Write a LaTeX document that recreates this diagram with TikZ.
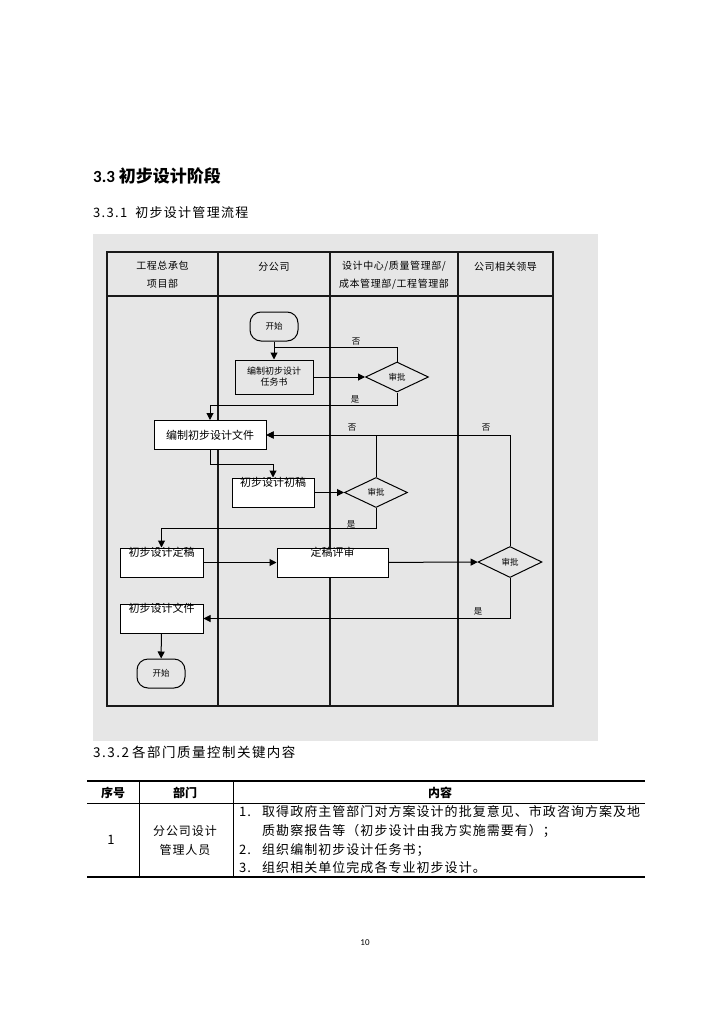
\documentclass[tikz,border=0pt]{standalone}
\usepackage{fontspec}
\setmainfont{Noto Sans CJK SC}
\newfontfamily\latinsans{Carlito}
\usetikzlibrary{arrows.meta, positioning, shapes.geometric}
\definecolor{PanelGray}{RGB}{230,230,230}
\definecolor{LineDark}{RGB}{25,25,25}

\begin{document}
\begin{tikzpicture}[x=1pt, y=-1pt]

\tikzset{
term/.style={
draw, rounded corners=11pt,
minimum width=48pt, minimum height=29pt,
inner sep=0pt, line width=1pt,
font=\fontsize{8.5}{10}\selectfont
},
proc/.style={
draw, fill=white,
minimum height=29pt, inner sep=0pt, line width=1pt
},
dec/.style={
draw, diamond,
minimum width=63pt, minimum height=30pt,
inner sep=0pt, line width=1pt,
font=\fontsize{8.5}{10}\selectfont
},
toptext/.style={anchor=center, yshift=-5pt, inner sep=0pt, font=\fontsize{11}{12}\selectfont},
arr/.style={-{Triangle[length=7pt,width=7pt]}, line width=1pt},
yn/.style={inner sep=0pt, font=\fontsize{8.5}{10}\selectfont},
hdr/.style={align=center, inner sep=0pt, font=\fontsize{10}{18}\selectfont\addfontfeature{LetterSpace=6}},
lane/.style={line width=1.3pt, LineDark},
cell/.style={anchor=west, inner sep=0pt, font=\fontsize{13}{15}\selectfont\addfontfeature{LetterSpace=8}},
thd/.style={inner sep=0pt, font=\fontsize{12}{14}\selectfont\bfseries}
}

\useasboundingbox (0,0) rectangle (724,1024);
\fill[white] (0,0) rectangle (724,1024);

% headings
\node[anchor=west, inner sep=0pt, font=\fontsize{17}{20}\selectfont\bfseries] (sec)
at (93,176) {{\latinsans 3.3} 初步设计阶段};
\node[anchor=west, inner sep=0pt, font=\fontsize{13}{15}\selectfont\addfontfeature{LetterSpace=10}] (sub1)
at (93,213) {3.3.1\hspace{8pt}初步设计管理流程};

% flow chart panel
\fill[PanelGray] (93,234) rectangle (598,741);
\draw[lane] (107,252) rectangle (553,706);
\draw[lane] (107,296) -- (553,296);
\foreach \lx in {218,330,458}
\draw[lane] (\lx,252) -- (\lx,706);

\node[hdr] (h1) at (162.5,275) {工程总承包\\项目部};
\node[hdr] (h2) at (274,267) {分公司};
\node[hdr] (h3) at (394,275) {设计中心/质量管理部/\\成本管理部/工程管理部};
\node[hdr] (h4) at (505.5,267) {公司相关领导};

\node[term] (start) at (274,326.5) {开始};
\node[draw, line width=1pt, minimum width=78pt, minimum height=34pt,
inner sep=0pt, align=center, font=\fontsize{9}{11}\selectfont] (task)
at (274,377) {编制初步设计\\任务书};
\node[dec] (chk1) at (397,377) {审批};

\node[proc, minimum width=112pt, font=\fontsize{11}{12}\selectfont] (draftdoc)
at (210,435) {编制初步设计文件};
\node[proc, minimum width=82pt, label={[toptext]north:初步设计初稿}] (first)
at (273,492.5) {};
\node[dec] (chk2) at (376,492.5) {审批};

\node[proc, minimum width=83pt, label={[toptext]north:初步设计定稿}] (final)
at (161.5,562.5) {};
\node[proc, minimum width=111pt, label={[toptext]north:定稿评审}] (review)
at (332.5,562.5) {};
\node[dec, minimum width=64pt, minimum height=31pt] (chk3) at (510,562) {审批};

\node[proc, minimum width=83pt, label={[toptext]north:初步设计文件}] (doc)
at (161.5,618.5) {};
\node[term] (stop) at (161,673.5) {开始};

\coordinate (j1) at (274,347);

\draw[arr] (start) -- (task);
\draw[line width=1pt] (chk1.north) |- (j1);
\draw[arr] (task) -- (chk1);
\draw[arr] (chk1.south) -- ++(0,13) -| (draftdoc.north);
\draw[arr] (draftdoc.south) -- ++(0,14) -| (first.north);
\draw[arr] (first) -- (chk2);
\draw[arr] (chk2.north) |- (draftdoc.east);
\draw[arr] (chk2.south) -- ++(0,20) -| (final.north);
\draw[arr] (final) -- (review);
\draw[arr] (review) -- (chk3);
\draw[arr] (chk3.north) |- (draftdoc.east);
\draw[arr] (chk3.south) |- (doc.east);
\draw[arr] (doc) -- (stop);

\node[yn] (no1) at (356,342) {否};
\node[yn] (yes1) at (355,399) {是};
\node[yn] (no2) at (352,428) {否};
\node[yn] (yes2) at (351,524) {是};
\node[yn] (no3) at (486,428) {否};
\node[yn] (yes3) at (478,611) {是};

% table
\node[anchor=west, inner sep=0pt, font=\fontsize{13.5}{15}\selectfont\addfontfeature{LetterSpace=11}] (sub2)
at (93,752) {3.3.2\hspace{3pt}各部门质量控制关键内容};

\draw[line width=1.5pt] (87,781) -- (645,781);
\draw[line width=0.5pt] (87,803) -- (645,803);
\draw[line width=1.5pt] (87,877) -- (645,877);
\draw[line width=0.6pt] (139,781) -- (139,877);
\draw[line width=0.6pt] (233,781) -- (233,877);

\node[thd] (th1) at (113,793) {序号};
\node[thd] (th2) at (185,793) {部门};
\node[thd] (th3) at (440,793) {内容};

\node[font=\fontsize{13}{15}\selectfont, inner sep=0pt] (no) at (111,840) {1};
\node[align=center, inner sep=0pt, font=\fontsize{12}{19}\selectfont\addfontfeature{LetterSpace=8}] (dept)
at (185,840) {分公司设计\\管理人员};

\node[cell] (n1) at (239,812) {1.};
\node[cell] (r1) at (262,812) {取得政府主管部门对方案设计的批复意见、市政咨询方案及地};
\node[cell] (r2) at (262,831) {质勘察报告等（初步设计由我方实施需要有）；};
\node[cell] (n2) at (239,850) {2.};
\node[cell] (r3) at (262,850) {组织编制初步设计任务书；};
\node[cell] (n3) at (239,868) {3.};
\node[cell] (r4) at (262,868) {组织相关单位完成各专业初步设计。};

\node[inner sep=0pt, font=\latinsans\fontsize{9}{10}\selectfont] (pg) at (365,943) {10};

\end{tikzpicture}
\end{document}
